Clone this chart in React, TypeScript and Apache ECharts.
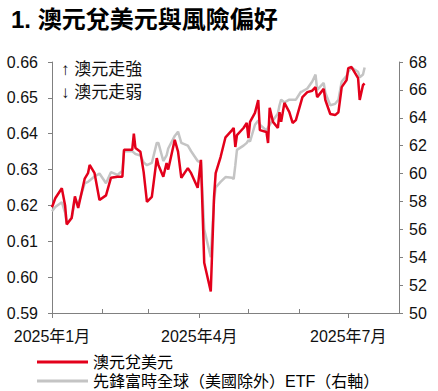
import React, { useEffect, useRef } from "react";
import * as echarts from "echarts";

const TITLE = "1. 澳元兌美元與風險偏好";
const SERIES_NAMES = ["澳元兌美元", "先鋒富時全球（美國除外）ETF（右軸）"];
const NOTES = ["↑ 澳元走強", "↓ 澳元走弱"];

const dates = [
  "2025-01-01", "2025-01-03", "2025-01-07", "2025-01-09", "2025-01-10", "2025-01-13",
  "2025-01-15", "2025-01-17", "2025-01-21", "2025-01-23", "2025-01-24", "2025-01-27",
  "2025-01-30", "2025-02-03", "2025-02-06", "2025-02-10", "2025-02-13", "2025-02-14",
  "2025-02-19", "2025-02-20", "2025-02-21", "2025-02-24", "2025-02-26", "2025-02-28",
  "2025-03-03", "2025-03-06", "2025-03-07", "2025-03-10", "2025-03-12", "2025-03-13",
  "2025-03-17", "2025-03-19", "2025-03-21", "2025-03-25", "2025-03-27", "2025-03-31",
  "2025-04-02", "2025-04-04", "2025-04-08", "2025-04-10", "2025-04-11", "2025-04-14",
  "2025-04-17", "2025-04-21", "2025-04-22", "2025-04-23", "2025-04-24", "2025-04-28",
  "2025-04-30", "2025-05-01", "2025-05-02", "2025-05-05", "2025-05-07", "2025-05-08",
  "2025-05-12", "2025-05-13", "2025-05-14", "2025-05-16", "2025-05-19", "2025-05-20",
  "2025-05-21", "2025-05-23", "2025-05-26", "2025-05-28", "2025-05-30", "2025-06-02",
  "2025-06-03", "2025-06-06", "2025-06-09", "2025-06-11", "2025-06-12", "2025-06-16",
  "2025-06-17", "2025-06-20", "2025-06-23", "2025-06-25", "2025-06-27", "2025-06-30",
  "2025-07-01", "2025-07-03", "2025-07-07", "2025-07-08", "2025-07-10", "2025-07-11",
];

const audUsd = [
  0.6195, 0.622, 0.6248, 0.62, 0.6147, 0.6165,
  0.6225, 0.6193, 0.6275, 0.629, 0.6313, 0.629,
  0.6215, 0.6228, 0.6277, 0.628, 0.628, 0.6355,
  0.6355, 0.64, 0.636, 0.635, 0.6293, 0.621,
  0.6224, 0.6332, 0.6313, 0.628, 0.6318, 0.63,
  0.6383, 0.635, 0.6277, 0.6304, 0.629, 0.6249,
  0.6327, 0.604, 0.596, 0.6224, 0.629, 0.6335,
  0.639, 0.641, 0.6416, 0.6363, 0.6396, 0.6416,
  0.643, 0.6388, 0.6433, 0.6458, 0.6494, 0.641,
  0.6405, 0.6374, 0.6472, 0.6433, 0.6416, 0.646,
  0.6433, 0.6486, 0.646, 0.643, 0.6438, 0.6486,
  0.6502, 0.6516, 0.652, 0.653, 0.6502, 0.6525,
  0.6494, 0.6455, 0.6452, 0.646, 0.653, 0.655,
  0.6583, 0.6586, 0.6555, 0.6494, 0.6536, 0.654,
];

const etf = [
  57.3, 57.6, 57.95, 57.2, 56.45, 56.8,
  58.1, 57.8, 59.3, 59.4, 59.5, 59.8,
  60.0, 59.3, 60.1, 59.9, 60.2, 61.6,
  61.6, 61.5, 61.4, 61.3, 60.8, 60.6,
  60.76, 62.2, 62.2, 60.9, 61.3, 61.8,
  62.7, 63.0, 62.2, 62.0, 61.6, 60.9,
  60.8, 56.0, 54.0, 58.1, 59.0, 59.4,
  59.75, 59.7, 59.6, 60.6, 61.7, 62.0,
  62.2, 62.4, 62.3, 63.5, 63.8, 63.5,
  63.1, 63.3, 63.5, 63.8, 64.3, 64.9,
  65.3, 65.1, 65.3, 65.3, 65.3, 65.85,
  65.9, 66.1, 66.6, 67.1, 66.0, 66.5,
  65.8, 64.9, 65.0, 65.3, 66.6, 67.0,
  67.3, 67.6, 67.3, 66.9, 67.1, 67.6,
];

const X_MIN_MONTH = 0; // 2025年1月
const X_MAX_MONTH = 7; // 2025年8月
const labelMonths = [0, 3, 6];
const minorTickMonths = [1, 2, 4, 5];

const FONT = "'Liberation Sans', Arial, 'Noto Sans CJK TC', sans-serif";

const ts = (m: number) => new Date(2025, m, 1).getTime();
const parseDay = (s: string) => {
  const [y, m, d] = s.split("-").map(Number);
  return new Date(y, m - 1, d).getTime();
};

export default function App() {
  const ref = useRef<HTMLDivElement>(null);
  useEffect(() => {
    if (!ref.current) return;
    const chart = echarts.init(ref.current, null, { renderer: "svg" });
    const fmt = (v: number) => {
      const d = new Date(v);
      return `${d.getFullYear()}年${d.getMonth() + 1}月`;
    };
    const xBase = {
      type: "value",
      min: ts(X_MIN_MONTH),
      max: ts(X_MAX_MONTH),
      splitLine: { show: false },
    };
    const legendBase = {
      orient: "horizontal",
      left: 37,
      itemWidth: 51,
      itemHeight: 3,
      icon: "rect",
      padding: 0,
      textStyle: { fontSize: 16, color: "#000", fontFamily: FONT },
    };
    chart.setOption({
      animation: false,
      textStyle: { fontFamily: FONT },
      title: {
        text: TITLE,
        left: 6,
        top: 2,
        textStyle: { fontSize: 24, fontWeight: "bold", color: "#000", fontFamily: FONT },
      },
      graphic: NOTES.map((t, i) => ({
        type: "text",
        left: 61,
        top: 61 + i * 23,
        style: { text: t, fill: "#111", font: `17px ${FONT}` },
      })),
      legend: [
        { ...legendBase, top: 354, data: [SERIES_NAMES[0]] },
        { ...legendBase, top: 373, data: [SERIES_NAMES[1]] },
      ],
      grid: { left: 52, right: 39, top: 62, bottom: 78 },
      xAxis: [
        {
          ...xBase,
          axisLine: { lineStyle: { color: "#808080", width: 1 } },
          axisTick: {
            inside: true,
            length: 4,
            lineStyle: { color: "#808080" },
            customValues: minorTickMonths.map(ts),
          },
          axisLabel: {
            fontSize: 16,
            color: "#111",
            margin: 15,
            customValues: labelMonths.map(ts),
            formatter: fmt,
          },
        },
        {
          ...xBase,
          position: "bottom",
          axisLine: { show: false },
          axisTick: {
            inside: false,
            length: 5,
            lineStyle: { color: "#808080" },
            customValues: labelMonths.map(ts),
          },
          axisLabel: { show: false },
        },
      ],
      yAxis: [
        {
          type: "value",
          min: 0.59,
          max: 0.66,
          interval: 0.01,
          axisLine: { show: true, lineStyle: { color: "#808080" } },
          axisTick: { show: true, length: 4, lineStyle: { color: "#808080" } },
          axisLabel: {
            fontSize: 16,
            color: "#111",
            margin: 14,
            formatter: (v: number) => v.toFixed(2),
          },
          splitLine: { show: false },
        },
        {
          type: "value",
          min: 50,
          max: 68,
          interval: 2,
          position: "right",
          axisLine: { show: true, lineStyle: { color: "#808080" } },
          axisTick: { show: true, length: 4, lineStyle: { color: "#808080" } },
          axisLabel: { fontSize: 16, color: "#111", margin: 10 },
          splitLine: { show: false },
        },
      ],
      series: [
        {
          name: SERIES_NAMES[0],
          type: "line",
          yAxisIndex: 0,
          showSymbol: false,
          z: 3,
          data: dates.map((d, i) => [parseDay(d), audUsd[i]]),
          lineStyle: { color: "#E3001B", width: 2.5 },
          itemStyle: { color: "#E3001B" },
        },
        {
          name: SERIES_NAMES[1],
          type: "line",
          yAxisIndex: 1,
          showSymbol: false,
          z: 2,
          data: dates.map((d, i) => [parseDay(d), etf[i]]),
          lineStyle: { color: "#C4C4C4", width: 2.5 },
          itemStyle: { color: "#C4C4C4" },
        },
      ],
    });
    return () => chart.dispose();
  }, []);
  return <div ref={ref} style={{ width: 438, height: 391, position: "absolute", left: 0, top: 0 }} />;
}
